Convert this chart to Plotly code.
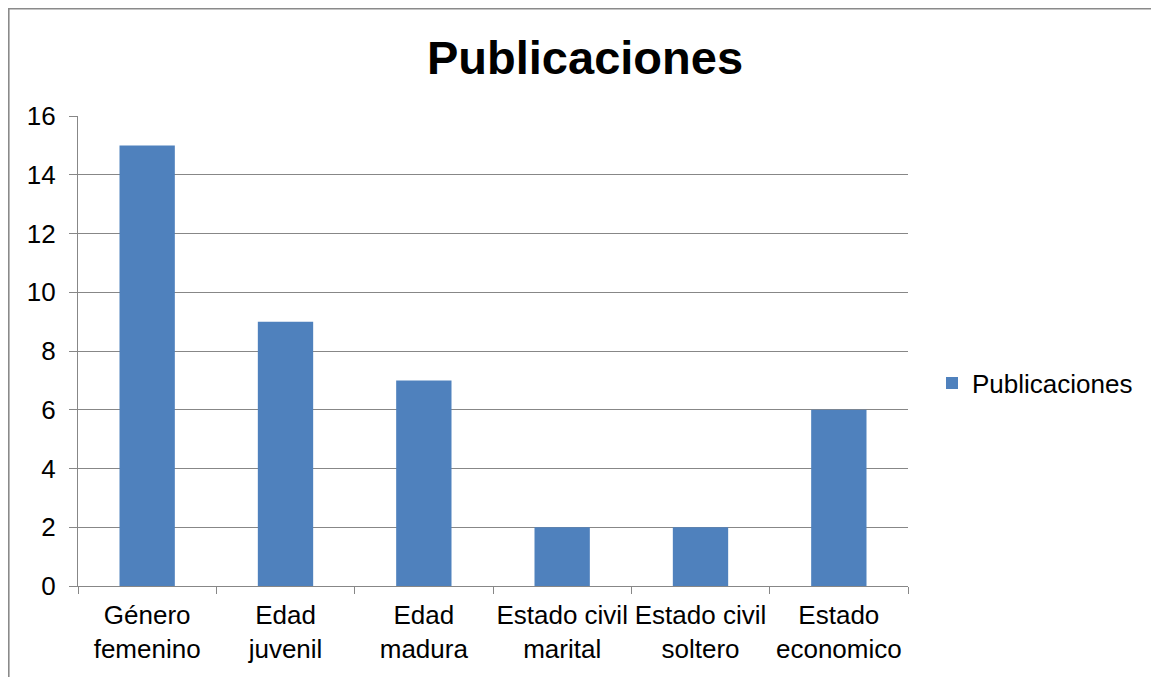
import plotly.graph_objects as go

categories = ["Género<br>femenino", "Edad<br>juvenil", "Edad<br>madura",
              "Estado civil<br>marital", "Estado civil<br>soltero", "Estado<br>economico"]
values = [15, 9, 7, 2, 2, 6]
series_name = "Publicaciones"
y_ticks = [0, 2, 4, 6, 8, 10, 12, 14, 16]

# page has an 8px body margin, so the figure starts at (8, 8)
W, H = 1151, 669
L, T = 70, 108
pw, ph = 830, 470
R, B = W - L - pw, H - T - ph

fig = go.Figure()
fig.add_trace(go.Bar(x=categories, y=values, name=series_name,
                     marker=dict(color="#4F81BD", line=dict(width=0)),
                     width=0.4, showlegend=True))

grid = "#878787"
fig.update_layout(
    width=W, height=H,
    margin=dict(l=L, r=R, t=T, b=B, autoexpand=False),
    paper_bgcolor="white", plot_bgcolor="white",
    font=dict(family="Liberation Sans, Arial", size=26, color="black"),
    title=dict(text="<b>Publicaciones</b>", x=(585 - 8) / W, xref="container", xanchor="center",
               y=1 - 50 / H, yref="container", yanchor="middle",
               font=dict(size=47, family="Liberation Sans, Arial")),
    showlegend=True,
    legend=dict(x=(924 - L) / pw, xanchor="left", y=(578 - 375) / ph, yanchor="middle",
                font=dict(size=26), bgcolor="rgba(0,0,0,0)", itemwidth=30),
    xaxis=dict(showline=True, linecolor=grid, linewidth=1.3, ticks="outside",
               tickson="boundaries", ticklen=7, tickcolor=grid, tickwidth=1.3,
               showgrid=False, tickfont=dict(size=26), tickangle=0, automargin=False,
               ticklabelstandoff=6),
    yaxis=dict(range=[0, 16], tickvals=y_ticks, showline=True, linecolor=grid, linewidth=1.3,
               ticks="outside", ticklen=8, tickcolor=grid, tickwidth=1.3,
               showgrid=True, gridcolor=grid, gridwidth=1.3, zeroline=False,
               tickfont=dict(size=26), automargin=False, ticklabelstandoff=8),
    bargap=0.6,
)

# outer chart frame (top and left edges visible; rest beyond canvas)
x0 = (0.8 - L) / pw
y1 = (T + ph - 0.8) / ph
fig.add_shape(type="rect", xref="paper", yref="paper", x0=x0, x1=1.5, y0=-0.5, y1=y1,
              line=dict(color="#8a8a8a", width=1.6), fillcolor="rgba(0,0,0,0)", layer="below")

fig.write_html("out.html")
